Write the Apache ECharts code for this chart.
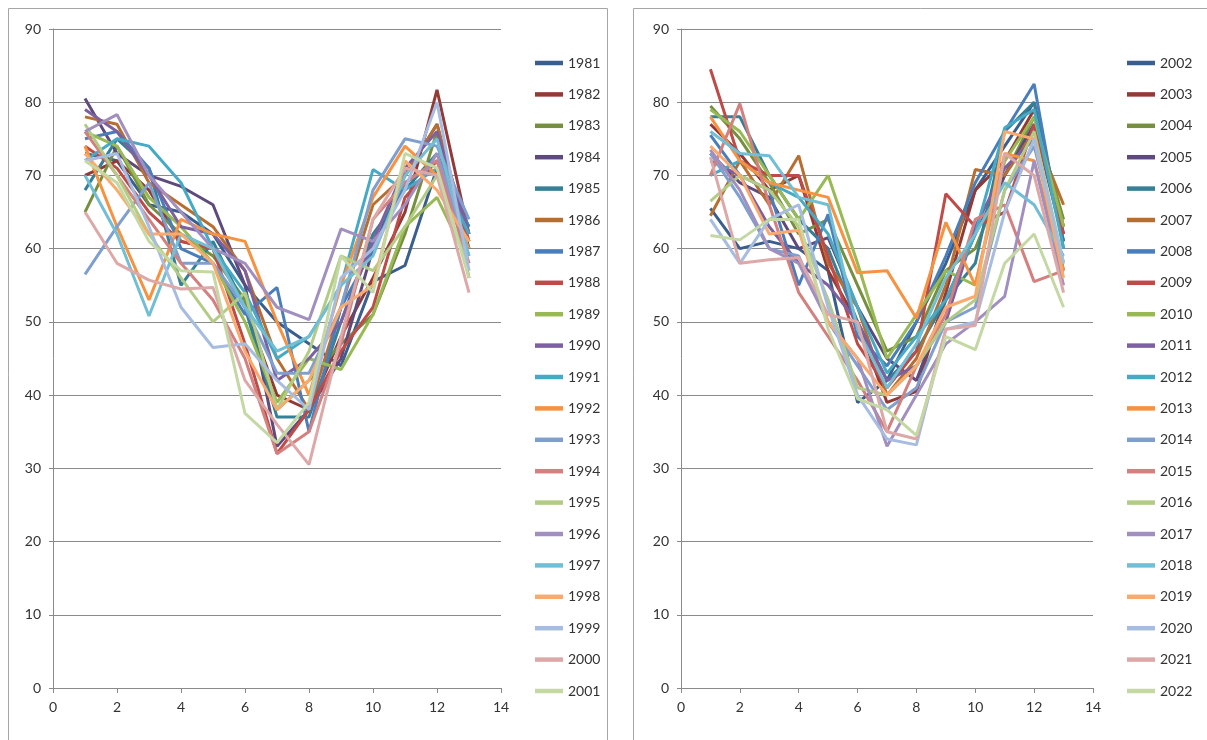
<!DOCTYPE html>
<html>
<head>
<meta charset="utf-8">
<script src="https://cdn.jsdelivr.net/npm/echarts@6/dist/echarts.min.js"></script>
<style>
html,body{margin:0;padding:0;background:#fff;}
#c{width:1207px;height:740px;}
</style>
</head>
<body>
<div id="c"></div>
<script>
// ---------- data ----------
const xValues = [1,2,3,4,5,6,7,8,9,10,11,12,13];
const yTicks = [0,10,20,30,40,50,60,70,80,90];
const xTicks = [0,2,4,6,8,10,12,14];

const leftYears = ['1981','1982','1983','1984','1985','1986','1987','1988','1989','1990','1991','1992','1993','1994','1995','1996','1997','1998','1999','2000','2001'];
const rightYears = ['2002','2003','2004','2005','2006','2007','2008','2009','2010','2011','2012','2013','2014','2015','2016','2017','2018','2019','2020','2021','2022'];

const v1981 = [73, 72, 66, 65, 62, 55, 50, 47, 44, 55.5, 57.7, 71, 63];
const v1982 = [70, 72, 68, 61, 60, 52, 40, 38, 48, 56, 65, 81.7, 62];
const v1983 = [65, 74, 66, 62, 59, 53, 38, 42, 47, 51, 62, 76, 56];
const v1984 = [80.5, 73, 70, 68.5, 66, 55, 33, 38, 45, 60, 70, 77, 60];
const v1985 = [68, 75, 71, 55, 61, 52, 37, 37, 50, 62, 68, 73, 62];
const v1986 = [78, 77, 69, 66, 63, 57, 45, 38, 52, 66, 70, 77, 61];
const v1987 = [75, 76, 71, 60, 58, 51, 54.7, 35, 52, 60, 69, 72, 63];
const v1988 = [74, 71, 65, 61, 60, 47, 32, 38, 46, 52, 67, 72, 61];
const v1989 = [76, 74, 67, 63, 58, 50, 39, 45, 43.5, 51, 63, 67, 58];
const v1990 = [79, 76, 70, 63, 62, 57, 42, 45, 50, 61, 71, 76, 62];
const v1991 = [72, 75, 74, 69, 60, 54, 45, 48, 55, 70.8, 68, 71, 62];
const v1992 = [74, 63, 53, 64, 62, 61, 50, 40, 55, 67, 74, 70, 60];
const v1993 = [56.5, 63, 69, 58, 58, 52, 43, 43, 52, 68, 75, 74, 64];
const v1994 = [76, 70, 64, 58, 53, 45, 32, 35, 47, 64, 69, 72, 58];
const v1995 = [77, 70, 62, 56, 50, 54, 38, 46, 59, 57, 63, 70, 57];
const v1996 = [76, 78.3, 70, 65, 60, 58, 52, 50.3, 62.7, 61, 66, 73, 59];
const v1997 = [70, 62, 50.8, 62, 60, 52, 46, 48, 55, 59, 70, 75, 59];
const v1998 = [73, 68, 62, 62, 58, 46, 38, 42, 52, 55, 72, 68, 61];
const v1999 = [72, 73, 63, 52, 46.5, 47, 42, 38, 56, 60, 68, 80, 57];
const v2000 = [65, 58, 55.7, 54.5, 54.7, 42, 36, 30.5, 48, 64, 71, 70, 54];
const v2001 = [72, 69, 61, 57, 56.8, 37.5, 33.5, 39, 59, 54, 73, 71, 56];

const v2002 = [65.5, 60, 61, 60, 57, 39, 42, 50, 58, 68, 74, 80, 62];
const v2003 = [77, 73, 68, 70, 57, 50, 39, 40.5, 54, 68, 72, 79, 63];
const v2004 = [79.5, 75, 69, 62, 64, 55, 46, 48, 57, 60, 70, 78, 64];
const v2005 = [73, 69, 67, 60, 61.5, 52, 45, 42, 53, 62, 70, 77, 61];
const v2006 = [78, 78, 70, 64, 60, 50, 42, 46, 53, 58, 76, 80, 61];
const v2007 = [64.5, 72, 66, 72.7, 58, 52, 40, 45, 55, 70.8, 70, 76, 66];
const v2008 = [75.5, 70, 68, 55, 64.7, 48, 44, 50, 59, 69, 76, 82.5, 60];
const v2009 = [84.5, 72, 70, 70, 59, 47, 41, 46, 67.5, 63, 65, 77, 62];
const v2010 = [79, 76, 70, 64, 70, 58, 45, 51, 57, 55, 72, 78, 63];
const v2011 = [72, 70, 63, 58, 55, 50, 42, 44, 50, 63, 71, 75, 57];
const v2012 = [70, 72, 69, 67, 62, 52, 43, 48, 53, 62, 76.5, 79, 60];
const v2013 = [78, 72, 69, 68, 67, 56.7, 57, 50.5, 63.6, 55, 73, 72, 57];
const v2014 = [73, 67, 60, 59, 50, 44, 38, 41, 50, 52, 68, 74, 58];
const v2015 = [70, 79.8, 66, 54, 48, 42, 35, 44, 51, 64, 66, 55.5, 57];
const v2016 = [66.5, 70, 68, 63, 53, 41, 40, 44, 50, 53, 68, 76, 58];
const v2017 = [73.5, 68, 60, 58, 50, 45, 33, 40, 47, 50, 53.5, 72, 55];
const v2018 = [76, 73, 72.7, 67, 66, 49, 41, 47, 56, 62, 69, 66, 59];
const v2019 = [74, 70, 62, 62.5, 50, 45, 40, 44, 52, 53.5, 76, 75, 56];
const v2020 = [64, 58, 64, 66, 52, 40, 34, 33.2, 49, 50, 65, 75, 58];
const v2021 = [72.5, 58, 58.5, 58.8, 51, 50, 35, 34, 49, 49.5, 73, 70, 54];
const v2022 = [61.8, 61.2, 64, 64, 49, 39.5, 38, 34.5, 48, 46.2, 58, 62, 52];

const leftValues = [v1981,v1982,v1983,v1984,v1985,v1986,v1987,v1988,v1989,v1990,v1991,v1992,v1993,v1994,v1995,v1996,v1997,v1998,v1999,v2000,v2001];
const rightValues = [v2002,v2003,v2004,v2005,v2006,v2007,v2008,v2009,v2010,v2011,v2012,v2013,v2014,v2015,v2016,v2017,v2018,v2019,v2020,v2021,v2022];

const palette = ['#3A5F8E','#933A37','#76903F','#5E4A7C','#368096','#B76E31',
                 '#4A7EBB','#BE4B48','#98B954','#7D60A0','#46AAC5','#F69240',
                 '#7F9FCF','#D3807E','#B3CC85','#A08FBF','#72BED4','#F9AB6F',
                 '#A6BCE0','#DCA9A8','#C4D8A4'];

// ---------- chart ----------
const font = 'Lato, "Open Sans", sans-serif';
const gridColor = '#8a8a8a';

function xAxisCfg(gi){
  return {
    type:'value', gridIndex:gi, min:0, max:14, interval:2,
    axisLine:{show:true, onZero:false, lineStyle:{color:gridColor, width:1}},
    axisTick:{show:true, length:5, inside:false, lineStyle:{color:gridColor}},
    axisLabel:{color:'#333', fontFamily:font, fontSize:14, margin:12},
    splitLine:{show:false}
  };
}
function yAxisCfg(gi){
  return {
    type:'value', gridIndex:gi, min:0, max:90, interval:10,
    axisLine:{show:true, lineStyle:{color:gridColor, width:1}},
    axisTick:{show:true, length:4, inside:false, lineStyle:{color:gridColor}},
    axisLabel:{color:'#333', fontFamily:font, fontSize:14, margin:12},
    splitLine:{show:true, lineStyle:{color:gridColor, width:1}}
  };
}

const series = [];
leftYears.forEach((y,i)=>{
  series.push({name:y, type:'line', xAxisIndex:0, yAxisIndex:0,
    data:xValues.map((x,k)=>[x, leftValues[i][k]]),
    showSymbol:false, symbol:'none', animation:false,
    lineStyle:{width:3, color:palette[i]}, itemStyle:{color:palette[i]}});
});
rightYears.forEach((y,i)=>{
  series.push({name:y, type:'line', xAxisIndex:1, yAxisIndex:1,
    data:xValues.map((x,k)=>[x, rightValues[i][k]]),
    showSymbol:false, symbol:'none', animation:false,
    lineStyle:{width:3, color:palette[i]}, itemStyle:{color:palette[i]}});
});

const legendCommon = {
  orient:'vertical', icon:'rect', itemWidth:28, itemHeight:4.5, itemGap:15.4,
  textStyle:{color:'#333', fontFamily:font, fontSize:14, lineHeight:16}
};

const option = {
  animation:false,
  backgroundColor:'#fff',
  grid:[
    {left:53, top:29, width:448, height:659},
    {left:681, top:29, width:412, height:659}
  ],
  xAxis:[xAxisCfg(0), xAxisCfg(1)],
  yAxis:[yAxisCfg(0), yAxisCfg(1)],
  legend:[
    Object.assign({left:530, top:50, data:leftYears}, legendCommon),
    Object.assign({left:1122, top:50, data:rightYears}, legendCommon)
  ],
  graphic:[
    {type:'rect', shape:{x:8.5, y:8.5, width:599, height:740}, style:{fill:'none', stroke:'#a6a6a6', lineWidth:1}, silent:true},
    {type:'rect', shape:{x:633.5, y:8.5, width:600, height:740}, style:{fill:'none', stroke:'#a6a6a6', lineWidth:1}, silent:true}
  ],
  series:series
};

const chart = echarts.init(document.getElementById('c'), null, {renderer:'canvas'});
chart.setOption(option);
</script>
</body>
</html>
